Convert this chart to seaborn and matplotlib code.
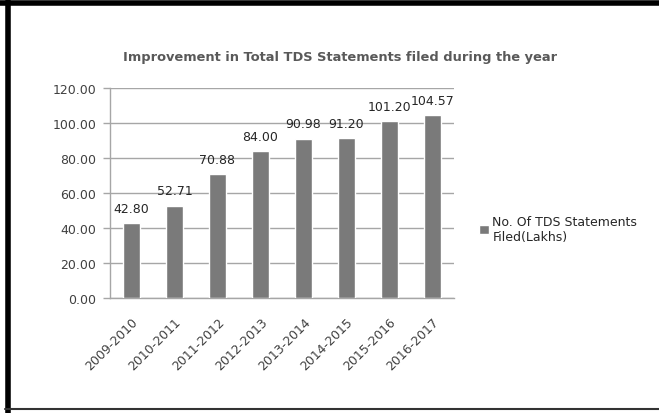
import numpy as np
import pandas as pd
import seaborn as sns
import matplotlib.pyplot as plt
from matplotlib.lines import Line2D

# == Data == #
years = ['2009-2010', '2010-2011', '2011-2012', '2012-2013',
         '2013-2014', '2014-2015', '2015-2016', '2016-2017']
statements = [42.80, 52.71, 70.88, 84.00, 90.98, 91.20, 101.20, 104.57]
series_name = 'No. Of TDS Statements\nFiled(Lakhs)'
title = 'Improvement in Total TDS Statements filed during the year'

df = pd.DataFrame({'Year': years, 'Count': statements})

sns.set_style('white')
plt.rcParams['font.family'] = ['DejaVu Sans']

fig = plt.figure(figsize=(6.59, 4.14), dpi=100)
ax = fig.add_axes([0.1669, 0.2778, 0.522, 0.5072])

bar_col = '#7a7a7a'
grid_col = '#a6a6a6'
sns.barplot(data=df, x='Year', y='Count', color=bar_col, width=0.4,
            saturation=1, ax=ax, label=series_name, zorder=3)

ax.set_ylim(0, 120)
ax.set_xlim(-0.5, len(years) - 0.5)
ax.set_yticks(np.arange(0, 121, 20))
ax.set_yticklabels(['%.2f' % v for v in np.arange(0, 121, 20)])
ax.yaxis.grid(True, color=grid_col, lw=1, zorder=0)
ax.set_axisbelow(True)

# ticks between categories on x
ax.set_xticks(np.arange(len(years)))
ax.set_xticklabels(years, rotation=45, ha='right', rotation_mode='anchor')
ax.set_xticks(np.arange(-0.5, len(years)), minor=True)
ax.tick_params(axis='x', which='major', length=0, pad=12, labelsize=9, labelcolor='#404040')
ax.tick_params(axis='x', which='minor', length=5, color=grid_col, width=1, direction='out')
ax.tick_params(axis='y', length=5, color=grid_col, width=1, direction='out',
               labelsize=9, labelcolor='#404040', pad=5, left=True)
ax.set_xlabel('')
ax.set_ylabel('')

for s in ['top', 'right']:
    ax.spines[s].set_visible(False)
for s in ['left', 'bottom']:
    ax.spines[s].set_color(grid_col)
    ax.spines[s].set_linewidth(1)

# -- data labels
for i, v in enumerate(statements):
    ax.annotate('%.2f' % v, (i, v), xytext=(0, 6), textcoords='offset points',
                ha='center', va='bottom', fontsize=9, color='#262626')

fig.text(0.5165, 0.862, title, ha='center', va='center', fontsize=9.4,
         fontweight='bold', color='#595959')

ax.legend(loc='center left', bbox_to_anchor=(0.71, 0.445),
          bbox_transform=fig.transFigure, frameon=False, fontsize=9,
          handlelength=0.75, handleheight=0.75, handletextpad=0.3,
          labelcolor='#262626')

# == outer frame of the screenshot == #
fig.add_artist(Line2D([0.0, 1.0], [0.99, 0.99], color='black', lw=4,
                      transform=fig.transFigure))
fig.add_artist(Line2D([0.0115, 0.0115], [0.0, 0.995], color='black', lw=4,
                      transform=fig.transFigure))
fig.add_artist(Line2D([0.008, 1.0], [0.009, 0.009], color='#333333', lw=1.5,
                      transform=fig.transFigure))

fig.savefig('out.png', dpi=100)
